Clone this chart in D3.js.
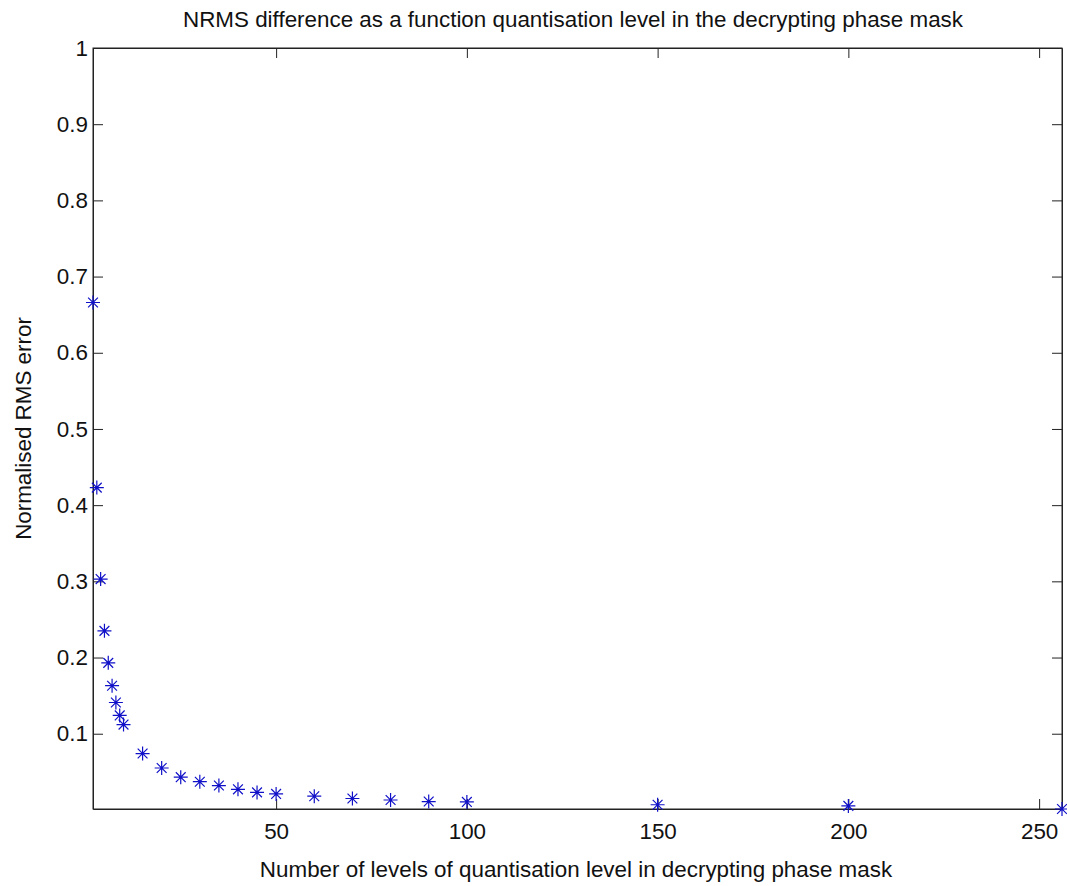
<!DOCTYPE html>
<html>
<head>
<meta charset="utf-8">
<script src="https://cdn.jsdelivr.net/npm/d3@7"></script>
<style>
  body { margin: 0; background: #fff; }
  svg text { font-family: "Liberation Sans", Arial, sans-serif; fill: #111; }
</style>
</head>
<body>
<div id="chart"></div>
<script>
// data
const levels = [2, 3, 4, 5, 6, 7, 8, 9, 10, 15, 20, 25, 30, 35, 40, 45, 50, 60, 70, 80, 90, 100, 150, 200, 256];
const nrms = [0.666, 0.423, 0.303, 0.235, 0.193, 0.163, 0.141, 0.124, 0.112, 0.074, 0.055, 0.043, 0.037, 0.032, 0.027, 0.023, 0.021, 0.018, 0.015, 0.013, 0.011, 0.0105, 0.0068, 0.0053, 0.0012];
const xTicks = [50, 100, 150, 200, 250];
const yTicks = [0.1, 0.2, 0.3, 0.4, 0.5, 0.6, 0.7, 0.8, 0.9, 1];

const width = 1067, height = 886;
const margin = {top: 48, right: 5, bottom: 77, left: 93};
const w = width - margin.left - margin.right;
const h = height - margin.top - margin.bottom;
const fs = 22.4;

const svg = d3.select('#chart').append('svg')
  .attr('width', width)
  .attr('height', height);

const g = svg.append('g')
  .attr('transform', `translate(${margin.left},${margin.top})`);

const x = d3.scaleLinear().domain([2, 256]).range([0, w]);
const y = d3.scaleLinear().domain([d3.min(nrms), 1]).range([h, 0]);

// box
g.append('rect')
  .attr('width', w).attr('height', h)
  .attr('fill', 'none').attr('stroke', '#222').attr('stroke-width', 1);

// bottom + top axes (inward ticks)
g.append('g').attr('transform', `translate(0,${h})`)
  .call(d3.axisBottom(x).tickValues(xTicks).tickSize(-10).tickPadding(14).tickSizeOuter(0));
g.append('g')
  .call(d3.axisTop(x).tickValues(xTicks).tickSize(-10).tickFormat('').tickSizeOuter(0));

// left + right axes
g.append('g')
  .call(d3.axisLeft(y).tickValues(yTicks).tickSize(-10).tickPadding(5).tickFormat(d3.format('~g')).tickSizeOuter(0));
g.append('g').attr('transform', `translate(${w},0)`)
  .call(d3.axisRight(y).tickValues(yTicks).tickSize(-10).tickFormat('').tickSizeOuter(0));

g.selectAll('.domain').attr('stroke', '#222');
g.selectAll('.tick line').attr('stroke', '#222');
g.selectAll('.tick text').attr('font-size', fs).attr('fill', '#111');

// asterisk markers
const r = 7;
const star = `M${-r},0L${r},0M0,${-r}L0,${r}` +
  `M${-r * 0.7},${-r * 0.7}L${r * 0.7},${r * 0.7}M${-r * 0.7},${r * 0.7}L${r * 0.7},${-r * 0.7}`;

g.append('g').selectAll('path')
  .data(levels.map((d, i) => ({lv: d, v: nrms[i]})))
  .enter().append('path')
    .attr('transform', d => `translate(${x(d.lv)},${y(d.v)})`)
    .attr('d', star)
    .attr('fill', 'none')
    .attr('stroke', '#1010c8')
    .attr('stroke-width', 1.2);

// title and labels
svg.append('text')
  .attr('x', 573).attr('y', 27)
  .attr('text-anchor', 'middle').attr('font-size', fs)
  .text('NRMS difference as a function quantisation level in the decrypting phase mask');

svg.append('text')
  .attr('x', 576).attr('y', 877)
  .attr('text-anchor', 'middle').attr('font-size', fs)
  .text('Number of levels of quantisation level in decrypting phase mask');

svg.append('text')
  .attr('transform', `translate(31,${margin.top + h / 2}) rotate(-90)`)
  .attr('text-anchor', 'middle').attr('font-size', fs)
  .text('Normalised RMS error');
</script>
</body>
</html>
